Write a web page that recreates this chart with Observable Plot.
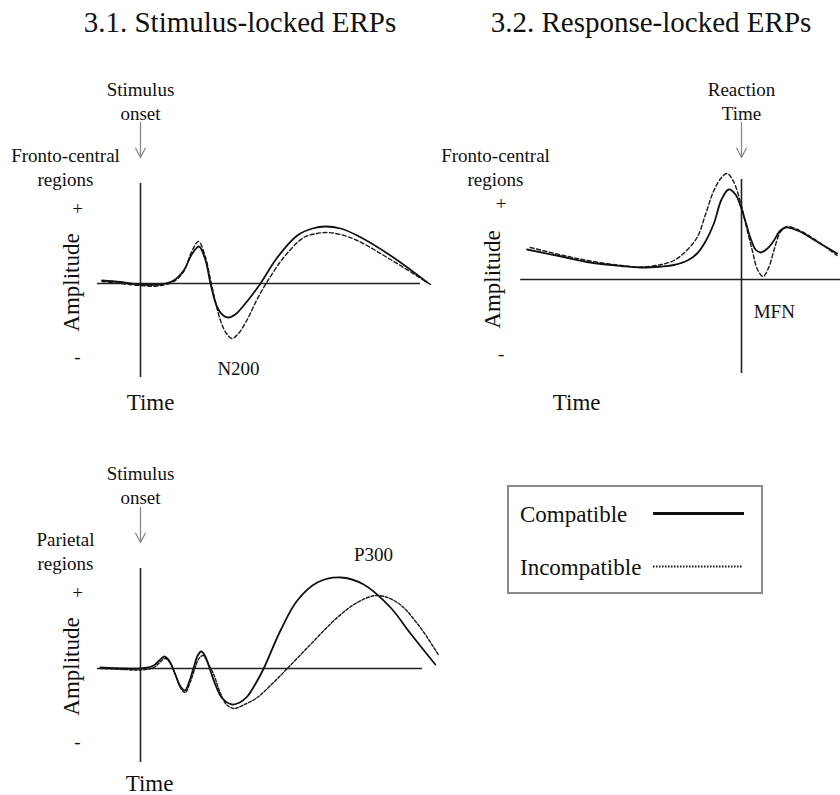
<!DOCTYPE html>
<html><head><meta charset="utf-8">
<script src="https://cdn.jsdelivr.net/npm/d3@7"></script>
<script src="https://cdn.jsdelivr.net/npm/@observablehq/plot@0.6"></script>
<style>
body{margin:0;background:#fff;}
#root{position:relative;width:840px;height:795px;overflow:hidden;font-family:"Liberation Serif","Times New Roman",serif;color:#111;background:#fff;}
.title{position:absolute;top:8px;font-size:29px;line-height:29px;text-align:center;white-space:nowrap;}
.panel{position:absolute;}
.panel svg{overflow:visible;}
</style></head><body><div id="root"></div>
<script>
// ---- Titles & legend ----
const titles = ["3.1. Stimulus-locked ERPs", "3.2. Response-locked ERPs"];
const legendLabels = ["Compatible", "Incompatible"];

// ---- Panel 3.1 (stimulus-locked, fronto-central): [time ms, amplitude] ----
const p1Compatible = [[-96,0.3],[-50,0.15],[0,-0.1],[50,-0.1],[83,0.3],[108,1.3],[128,2.9],[146,3.7],[162,2.4],[175,0],[192,-2.4],[207,-3.2],[221,-3.4],[240,-3.0],[258,-2.2],[280,-1.1],[300,0],[342,2.6],[392,4.8],[430,5.5],[463,5.7],[500,5.5],[542,4.8],[625,2.8],[717,0.1]];
const p1Incompatible = [[-96,0.2],[-50,0.0],[0,-0.2],[42,-0.25],[83,0.2],[108,1.2],[128,3.2],[145,4.2],[162,2.7],[177,0],[200,-3.7],[215,-5.0],[229,-5.5],[245,-5.0],[267,-3.6],[290,-1.7],[314,0],[358,2.6],[408,4.6],[440,5.0],[467,5.1],[500,4.9],[542,4.3],[625,2.4],[725,-0.1]];

// ---- Panel 3.2 (response-locked, fronto-central) ----
const p2Compatible = [[-536,3.0],[-450,2.3],[-378,1.7],[-300,1.35],[-253,1.2],[-200,1.3],[-169,1.45],[-135,1.9],[-111,2.6],[-90,3.8],[-69,5.6],[-50,8.0],[-32,9.0],[-15,8.5],[-1,7.2],[10,5.8],[22,4.2],[35,3.0],[48,2.7],[65,3.1],[81,3.9],[95,4.8],[110,5.2],[140,4.9],[172,4.2],[205,3.4],[239,2.6]];
const p2Incompatible = [[-528,3.2],[-450,2.45],[-378,1.85],[-300,1.4],[-253,1.25],[-200,1.5],[-169,1.9],[-145,2.6],[-111,4.2],[-90,6.5],[-69,8.9],[-50,10.2],[-36,10.6],[-20,9.8],[-1,7.5],[12,5.3],[27,2.9],[40,1.0],[54,0.3],[68,1.2],[81,2.9],[95,4.6],[105,5.1],[114,5.3],[140,5.0],[172,4.3],[205,3.4],[239,2.4]];

// ---- Panel 3.1 bottom (stimulus-locked, parietal) ----
const p3Compatible = [[-100,0.1],[-40,0.0],[0,0],[33,0.3],[47,0.8],[60,1.2],[73,0.7],[86,-0.5],[100,-1.8],[111,-2.2],[122,-1.3],[133,0.1],[143,1.3],[152,1.7],[162,1.2],[173,0],[188,-1.7],[205,-3.0],[229,-3.6],[248,-3.4],[267,-2.8],[288,-1.5],[308,0],[350,3.8],[392,6.8],[442,8.6],[500,9.1],[558,8.4],[625,6.1],[675,3.5],[737,0.4]];
const p3Incompatible = [[-100,0.0],[-40,-0.1],[0,-0.15],[33,0.1],[48,0.6],[62,1.0],[75,0.5],[88,-0.7],[101,-2.0],[112,-2.4],[124,-1.4],[136,0.0],[146,1.0],[157,1.3],[168,0.6],[183,-0.6],[200,-2.5],[215,-3.6],[233,-4.0],[255,-3.7],[292,-2.9],[330,-1.5],[367,0],[425,2.4],[492,5.1],[542,6.6],[592,7.3],[642,6.6],[692,4.5],[746,1.3]];

// ---- Annotation labels (positions in data units: time, amplitude) ----
const p1Notes = [
  {t:0, a:18.3, text:"Stimulus\nonset"},
  {t:-187.5, a:11.7, text:"Fronto-central\nregions"},
  {t:-157.5, a:7.6, text:"+"},
  {t:-157.5, a:-7.2, text:"-"},
  {t:245, a:-8.4, text:"N200"}
];
const p2Notes = [
  {t:0, a:17.9, text:"Reaction\nTime"},
  {t:-615, a:11.3, text:"Fronto-central\nregions"},
  {t:-601, a:7.7, text:"+"},
  {t:-601, a:-7.3, text:"-"},
  {t:82, a:-3.1, text:"MFN"}
];
const p3Notes = [
  {t:0, a:18.4, text:"Stimulus\nonset"},
  {t:-187.5, a:11.8, text:"Parietal\nregions"},
  {t:-157.5, a:7.7, text:"+"},
  {t:-157.5, a:-7.2, text:"-"},
  {t:582.5, a:11.5, text:"P300"}
];

const root = document.getElementById("root");
const FONT = '"Liberation Serif","Times New Roman",serif';

function addTitle(text, left, width) {
  const d = document.createElement("div");
  d.className = "title";
  d.style.left = left + "px";
  d.style.width = width + "px";
  d.textContent = text;
  root.appendChild(d);
}
addTitle(titles[0], 0, 480);
addTitle(titles[1], 451, 400);

function panel(o) {
  const marks = [
    Plot.ruleY([0], {x1: o.base[0], x2: o.base[1], stroke: "#222", strokeWidth: 1.6}),
    Plot.ruleX([o.axisT], {y1: o.axis[0], y2: o.axis[1], stroke: "#222", strokeWidth: 1.6}),
    Plot.line(o.incompatible, {x: d => d[0], y: d => d[1], curve: "catmull-rom", stroke: "#1a1a1a", strokeWidth: 1.4, strokeDasharray: o.dash}),
    Plot.line(o.compatible, {x: d => d[0], y: d => d[1], curve: "catmull-rom", stroke: "#111", strokeWidth: 1.8}),
    Plot.arrow([o.arrow], {x1: "t", y1: "a1", x2: "t", y2: "a2", stroke: "#8a8a8a", strokeWidth: 1.3, headLength: 12, headAngle: 55, insetStart: 0, insetEnd: 0}),
    Plot.text(o.notes, {x: "t", y: "a", text: "text", fontSize: 19, lineHeight: 1.25, lineAnchor: "middle", textAnchor: "middle", fill: "#111"}),
    Plot.text([o.amp], {x: "t", y: "a", text: () => "Amplitude", rotate: -90, fontSize: 23, lineAnchor: "middle", textAnchor: "middle", fill: "#111"}),
    Plot.text([o.time], {x: "t", y: "a", text: () => "Time", fontSize: 23, lineAnchor: "middle", textAnchor: "middle", fill: "#111"})
  ];
  const chart = Plot.plot({
    width: o.width, height: o.height,
    marginTop: 0, marginRight: 0, marginBottom: 0, marginLeft: 0,
    x: {domain: o.xDomain, axis: null},
    y: {domain: o.yDomain, axis: null},
    style: {fontFamily: FONT, background: "transparent", overflow: "visible"},
    marks
  });
  const wrap = document.createElement("div");
  wrap.className = "panel";
  wrap.style.left = o.left + "px";
  wrap.style.top = o.top + "px";
  wrap.appendChild(chart);
  root.appendChild(wrap);
}

panel({
  left: 0, top: 60, width: 440, height: 360,
  xDomain: [-350, 750], yDomain: [-13.7, 22.3],
  base: [-107.5, 700], axisT: 0, axis: [10, -9.4],
  compatible: p1Compatible, incompatible: p1Incompatible, dash: "4,2.5",
  arrow: {t: 0, a1: 16.1, a2: 12.6},
  notes: p1Notes, amp: {t: -172, a: 0.1}, time: {t: 25, a: -11.9}
});
panel({
  left: 420, top: 60, width: 420, height: 360,
  xDomain: [-802.5, 247.5], yDomain: [-14.1, 21.9],
  base: [-552, 247.5], axisT: 0, axis: [10, -9.4],
  compatible: p2Compatible, incompatible: p2Incompatible, dash: "4,2.5",
  arrow: {t: 0, a1: 15.7, a2: 12.2},
  notes: p2Notes, amp: {t: -622, a: 0}, time: {t: -412, a: -12.3}
});
panel({
  left: 0, top: 430, width: 460, height: 365,
  xDomain: [-350, 800], yDomain: [-12.7, 23.8],
  base: [-107.5, 705], axisT: 0, axis: [10, -9.4],
  compatible: p3Compatible, incompatible: p3Incompatible, dash: "3,1.8",
  arrow: {t: 0, a1: 16.1, a2: 12.6},
  notes: p3Notes, amp: {t: -172, a: 0.2}, time: {t: 22.5, a: -11.5}
});

// ---- Legend ----
const ns = "http://www.w3.org/2000/svg";
const lg = document.createElementNS(ns, "svg");
lg.setAttribute("width", 256); lg.setAttribute("height", 109);
lg.style.position = "absolute"; lg.style.left = "507px"; lg.style.top = "485px";
lg.innerHTML = `
  <rect x="1" y="1" width="254" height="107" fill="#fff" stroke="#8a8a8a" stroke-width="2"/>
  <text x="13" y="37" font-family='${FONT}' font-size="23" fill="#111">${legendLabels[0]}</text>
  <line x1="146" x2="237" y1="28.5" y2="28.5" stroke="#111" stroke-width="2.8"/>
  <text x="13" y="90" font-family='${FONT}' font-size="23" fill="#111">${legendLabels[1]}</text>
  <line x1="146" x2="236" y1="81.5" y2="81.5" stroke="#111" stroke-width="2" stroke-dasharray="1.5,1.5"/>`;
root.appendChild(lg);
</script>
</body></html>
